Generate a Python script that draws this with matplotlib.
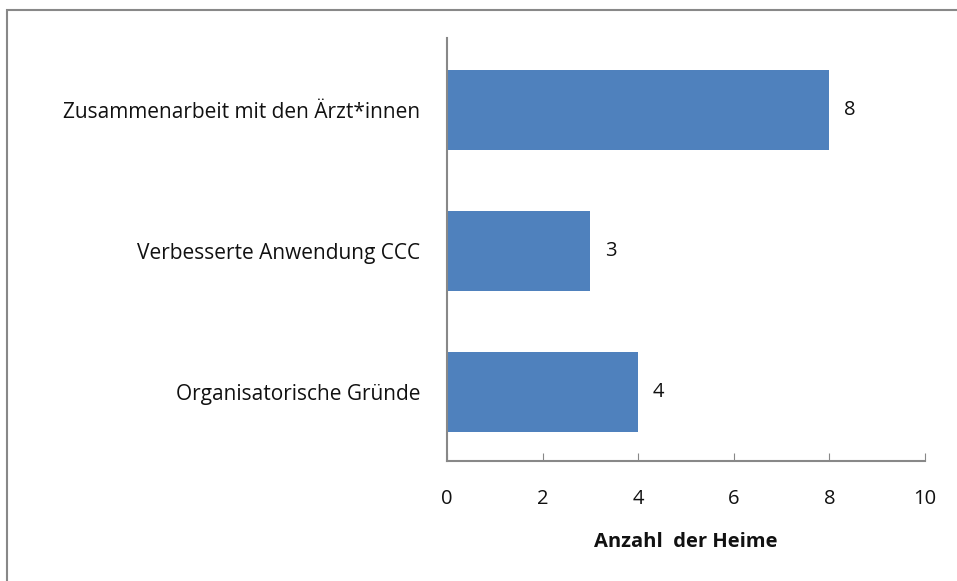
import matplotlib
matplotlib.use("Agg")
import matplotlib.pyplot as plt
from matplotlib.patches import Rectangle

plt.rcParams['font.family'] = ['Open Sans', 'DejaVu Sans']

categories = ['Organisatorische Gründe', 'Verbesserte Anwendung CCC', 'Zusammenarbeit mit den Ärzt*innen']
values = [4, 3, 8]
x_ticks = [0, 2, 4, 6, 8, 10]
x_label = 'Anzahl  der Heime'

fig = plt.figure(figsize=(9.57, 5.81), dpi=100)
ax = fig.add_axes([0.467, 0.2065, 0.4995, 0.728])

bars = ax.barh(range(len(categories)), values, height=0.57, color='#4F81BD')
ax.set_xlim(0, 10)
ax.set_ylim(-0.49, len(categories) - 0.49)
ax.set_xticks(x_ticks)
ax.set_yticks(range(len(categories)))
ax.set_yticklabels(categories, fontsize=15, color='#111111')
ax.tick_params(axis='y', length=0, pad=19)
ax.tick_params(axis='x', direction='in', length=6, color='#888888', pad=20,
               labelsize=14.5, labelcolor='#111111')
ax.set_xlabel(x_label, fontsize=14.5, fontweight='bold', color='#111111', labelpad=17)

for s in ['top', 'right']:
    ax.spines[s].set_visible(False)
for s in ['left', 'bottom']:
    ax.spines[s].set_color('#888888')
    ax.spines[s].set_linewidth(1.5)

for bar, v in zip(bars, values):
    ax.text(bar.get_width() + 0.3, bar.get_y() + bar.get_height() / 2, str(v),
            va='center', ha='left', fontsize=14.5, color='#111111')

fig.patches.append(Rectangle((7 / 957, -0.01), 1.0, 1 - 10 / 581 + 0.01,
                             transform=fig.transFigure, fill=False,
                             edgecolor='#888888', linewidth=1.5))

fig.savefig('out.png', dpi=100)
